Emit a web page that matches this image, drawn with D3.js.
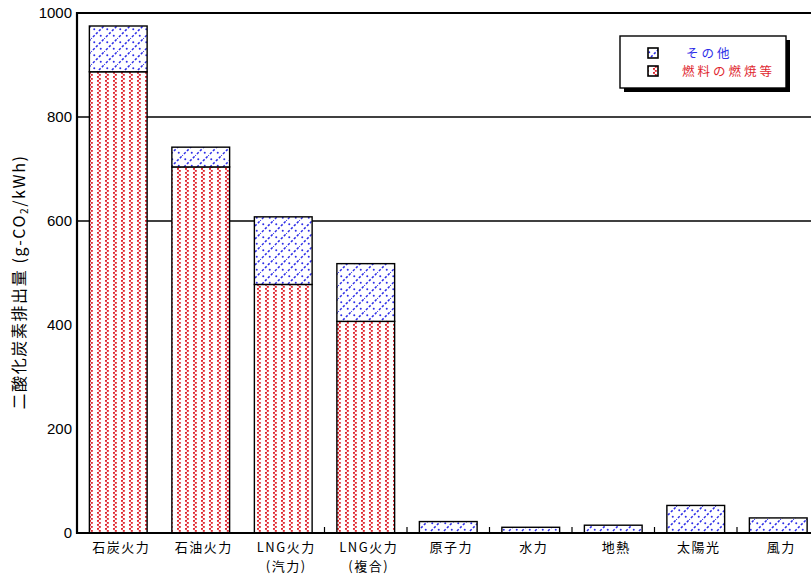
<!DOCTYPE html>
<html>
<head>
<meta charset="utf-8">
<script src="https://cdn.jsdelivr.net/npm/d3@7"></script>
<style>
  html, body { margin: 0; padding: 0; background: #fff; }
  svg { display: block; font-family: "Noto Sans CJK JP", "Noto Sans", sans-serif; }
</style>
</head>
<body>
<svg id="chart" width="811" height="576"></svg>
<script>
// 電源別ライフサイクルCO2排出量 (g-CO2/kWh)
const categories = ["石炭火力", "石油火力", "LNG火力", "LNG火力", "原子力", "水力", "地熱", "太陽光", "風力"];
const subLabels  = ["", "", "(汽力)", "(複合)", "", "", "", "", ""];
const fuelValues  = [887, 704, 478, 407, 0, 0, 0, 0, 0];   // 燃料の燃焼等
const otherValues = [88, 38, 130, 111, 22, 11, 15, 53, 29]; // その他
const yTicks = [0, 200, 400, 600, 800, 1000];
const gridValues = [600, 800];
const seriesNames = ["その他", "燃料の燃焼等"];

const svg = d3.select("#chart");
const m = { left: 77, top: 13, bottom: 533 };

const x = d3.scaleBand()
  .domain(d3.range(categories.length))
  .range([m.left, m.left + 82.5 * categories.length])
  .paddingInner(0.3)
  .paddingOuter(0.15);

const y = d3.scaleLinear().domain([0, 1000]).range([m.bottom, m.top]);

// hatch patterns
const defs = svg.append("defs");
const red = "#e02830", blue = "#2f2fe8";

// wavy vertical dotted columns
const pr = defs.append("pattern").attr("id", "fuel").attr("patternUnits", "userSpaceOnUse")
  .attr("width", 8).attr("height", 4);
pr.append("rect").attr("width", 8).attr("height", 4).attr("fill", "#fff");
[[1, 0], [2.8, 2]].forEach(([px, py]) =>
  pr.append("rect").attr("x", px).attr("y", py).attr("width", 2).attr("height", 1.8).attr("fill", red));

// dotted diagonal lines with dots in between
const pb = defs.append("pattern").attr("id", "other").attr("patternUnits", "userSpaceOnUse")
  .attr("width", 13).attr("height", 13);
pb.append("rect").attr("width", 13).attr("height", 13).attr("fill", "#fff");
pb.append("line").attr("x1", -1).attr("y1", 14).attr("x2", 14).attr("y2", -1)
  .attr("stroke", blue).attr("stroke-width", 1.5).attr("stroke-dasharray", "2.4,1.8");
[[3.25, 3.25], [9.75, 9.75]].forEach(([cx, cy]) =>
  pb.append("circle").attr("cx", cx).attr("cy", cy).attr("r", 1.0).attr("fill", blue));

// grid lines and frame
const right = 811;
svg.selectAll("line.grid").data(gridValues).join("line").attr("class", "grid")
  .attr("x1", m.left).attr("x2", right).attr("y1", d => y(d)).attr("y2", d => y(d))
  .attr("stroke", "#000").attr("stroke-width", 1.4);
svg.append("line").attr("x1", m.left).attr("x2", right).attr("y1", y(1000)).attr("y2", y(1000))
  .attr("stroke", "#000").attr("stroke-width", 2.2);

// bars
const g = svg.append("g");
categories.forEach((c, i) => {
  const x0 = x(i), w = x.bandwidth();
  const f = fuelValues[i], t = f + otherValues[i];
  if (f > 0) {
    g.append("rect").attr("x", x0).attr("y", y(f)).attr("width", w).attr("height", y(0) - y(f))
      .attr("fill", "url(#fuel)").attr("stroke", "#000").attr("stroke-width", 1.4);
  }
  g.append("rect").attr("x", x0).attr("y", y(t)).attr("width", w).attr("height", y(f) - y(t))
    .attr("fill", "url(#other)").attr("stroke", "#000").attr("stroke-width", 1.4);
});

// small category ticks on the baseline
d3.range(3, categories.length).forEach(i => {
  const bx = x(i) - x.step() * x.paddingInner() / 2;
  svg.append("line").attr("x1", bx).attr("x2", bx).attr("y1", y(0)).attr("y2", y(0) - 6)
    .attr("stroke", "#000").attr("stroke-width", 1.2);
});

// axes lines
svg.append("line").attr("x1", m.left).attr("x2", m.left).attr("y1", y(1000) - 1).attr("y2", y(0) + 1)
  .attr("stroke", "#000").attr("stroke-width", 2.2);
svg.append("line").attr("x1", m.left).attr("x2", right).attr("y1", y(0)).attr("y2", y(0))
  .attr("stroke", "#000").attr("stroke-width", 2.2);

// y tick labels
const yAxis = d3.axisLeft(y).tickValues(yTicks).tickFormat(d3.format("d")).tickSize(0).tickPadding(5);
const ya = svg.append("g").attr("transform", `translate(${m.left},0)`).call(yAxis);
ya.select(".domain").remove();
ya.selectAll("text").attr("font-size", 15).attr("fill", "#000")
  .attr("font-family", "\"Liberation Sans\", Arial, sans-serif");

// category labels
categories.forEach((c, i) => {
  const cx = x(i) + x.bandwidth() / 2 + 3;
  svg.append("text").attr("x", cx).attr("y", 552).attr("text-anchor", "middle")
    .attr("font-size", 13).attr("letter-spacing", 1.5).attr("fill", "#000").text(c);
  if (subLabels[i]) {
    svg.append("text").attr("x", cx).attr("y", 571).attr("text-anchor", "middle")
      .attr("font-size", 13).attr("letter-spacing", 1.5).attr("fill", "#000").text(subLabels[i]);
  }
});

// y axis title
const yt = svg.append("text").attr("transform", "translate(25,282) rotate(-90)")
  .attr("text-anchor", "middle").attr("font-size", 16).attr("letter-spacing", 1.6).attr("fill", "#000");
yt.append("tspan").text("二酸化炭素排出量 (g-CO");
yt.append("tspan").attr("font-size", 10).attr("dy", 3).text("2");
yt.append("tspan").attr("dy", -3).text("/kWh)");

// legend
const lg = svg.append("g").attr("transform", "translate(620,36)");
lg.append("rect").attr("x", 4).attr("y", 4).attr("width", 166).attr("height", 52).attr("fill", "#000");
lg.append("rect").attr("width", 166).attr("height", 52).attr("fill", "#fff")
  .attr("stroke", "#000").attr("stroke-width", 1.4);
const fills = ["url(#other)", "url(#fuel)"];
const tcol = [blue, red];
seriesNames.forEach((s, k) => {
  lg.append("rect").attr("x", 28).attr("y", 12 + k * 18).attr("width", 10).attr("height", 10)
    .attr("fill", fills[k]).attr("stroke", "#000").attr("stroke-width", 1.6);
  lg.append("text").attr("x", k === 0 ? 66 : 62).attr("y", 21.5 + k * 18.5)
    .attr("font-size", 12.5).attr("letter-spacing", 3).attr("fill", tcol[k]).text(s);
});
</script>
</body>
</html>
